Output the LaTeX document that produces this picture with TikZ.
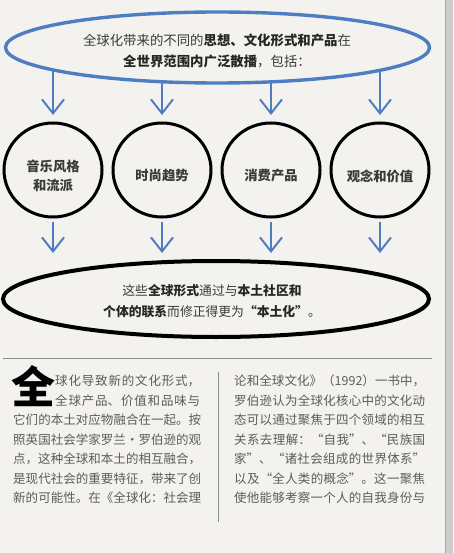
\documentclass[tikz,border=0pt]{standalone}
\usepackage{fontspec}
\setmainfont{Noto Sans CJK SC}
\usetikzlibrary{shapes.geometric,arrows.meta,backgrounds}
% Chinese line breaking: glue between characters so lines can be justified
\XeTeXlinebreaklocale "zh"
\XeTeXlinebreakskip=0pt plus 2pt minus 0.4pt
\tolerance=10000

\definecolor{paper}{HTML}{F4F2EF}
\definecolor{flowblue}{HTML}{4E7EC1}
\definecolor{ink}{HTML}{262626}
\definecolor{softink}{HTML}{3A3A3A}
\definecolor{bodyink}{HTML}{5C5C5C}
\definecolor{rulegray}{HTML}{8C8C8C}
\definecolor{pageedge}{HTML}{CDCDCD}

% one justified line of running text
\newcommand\fullline[1]{\parindent=0pt\parfillskip=0pt\relax#1\par}

\begin{document}
\begin{tikzpicture}[x=1pt,y=-1pt,
  oval/.style={ellipse, draw, fill=paper, inner sep=0pt},
  sourceoval/.style={oval, draw=flowblue, line width=3.4pt, minimum width=424pt, minimum height=71pt},
  localoval/.style={oval, draw=black, line width=4pt, minimum width=426pt, minimum height=76pt},
  topic/.style={ellipse, draw=black, line width=3pt, minimum width=98pt, minimum height=94pt, inner sep=0pt},
  topiclabel/.style={font=\fontsize{13.3}{18.5}\selectfont\bfseries, text=softink, align=center, inner sep=0pt},
  ovaltext/.style={align=center, inner sep=0pt, text=softink},
  flow/.style={draw=flowblue, line width=2pt, -{Straight Barb[length=14pt,width=22pt,line width=2pt]}},
  bodyline/.style={anchor=base west, inner sep=0pt, text width=#1, align=justify,
    font=\fontsize{12.5}{19.5}\selectfont, text=bodyink},
  bodyline/.default=188pt,
]
\useasboundingbox (0,0) rectangle (453,553);

\begin{pgfonlayer}{background}
  \fill[paper] (0,0) rectangle (453,553);
  \fill[pageedge] (445,0) rectangle (453,553);
  \draw[black!35, line width=0.8pt] (445,0) -- (445,553);
\end{pgfonlayer}

% source of global forms
\node[sourceoval] (source) at (217.5,47.5) {};
\node[ovaltext, font=\fontsize{13.4}{21}\selectfont] (sourcetext) at (217,51)
  {全球化带来的不同的\textcolor{ink}{\textbf{思想、文化形式和产品}}在\\\textcolor{ink}{\textbf{全世界范围内广泛散播}}，包括：};

% the four domains
\node[topic] (music)    at (53,170)  {};
\node[topic] (fashion)  at (162,170) {};
\node[topic] (goods)    at (271,170) {};
\node[topic] (values)   at (380,170) {};
\node[topiclabel] (musiclabel)   at (53,176)  {音乐风格\\和流派};
\node[topiclabel] (fashionlabel) at (162,176) {时尚趋势};
\node[topiclabel] (goodslabel)   at (271,176) {消费产品};
\node[topiclabel] (valueslabel)  at (380,176) {观念和价值};

% localisation
\node[localoval] (local) at (216,299) {};
\node[ovaltext, font=\fontsize{12.8}{21.5}\selectfont] (localtext) at (212,301)
  {这些\textcolor{ink}{\textbf{全球形式}}通过与\textcolor{ink}{\textbf{本土社区和}}\\\textcolor{ink}{\textbf{个体的联系}}而修正得更为\textcolor{ink}{\textbf{“本土化”}}。};

% arrows: start under the filled source oval, end above the circles / local oval
\begin{pgfonlayer}{background}
  \foreach \t in {music,fashion,goods,values}{
    \draw[flow, shorten >=6.5pt] (\t |- source.center) -- (\t.north);
  }
\end{pgfonlayer}
\foreach \t in {music,fashion,goods,values}{
  \draw[flow, shorten >=6pt, shorten <=3pt] (\t.south) -- (\t.south |- local.north);
}

% text columns
\draw[rulegray, line width=1pt] (3,358) -- (432,358);
\draw[rulegray, line width=0.9pt] (218,372) -- (218,522);

\node[anchor=base, inner sep=0pt, font=\fontsize{44}{44}\selectfont\bfseries, text=black] (dropcap) at (33,403) {全};

\node[bodyline=145pt] (left1) at (55,385.8)  {\fullline{球化导致新的文化形式，}};
\node[bodyline=145pt] (left2) at (55,405.3)  {\fullline{全球产品、价值和品味与}};
\node[bodyline] (left3) at (13,424.8) {\fullline{它们的本土对应物融合在一起。按}};
\node[bodyline] (left4) at (13,444.3) {\fullline{照英国社会学家罗兰•罗伯逊的观}};
\node[bodyline] (left5) at (13,463.8) {\fullline{点，这种全球和本土的相互融合，}};
\node[bodyline] (left6) at (13,483.3) {\fullline{是现代社会的重要特征，带来了创}};
\node[bodyline] (left7) at (13,502.8) {\fullline{新的可能性。在《全球化：社会理}};

\node[bodyline=191pt] (right1) at (234,385.8) {\fullline{论和全球文化》（1992）一书中，}};
\node[bodyline=191pt] (right2) at (234,405.3) {\fullline{罗伯逊认为全球化核心中的文化动}};
\node[bodyline=191pt] (right3) at (234,424.8) {\fullline{态可以通过聚焦于四个领域的相互}};
\node[bodyline=191pt] (right4) at (234,444.3) {\fullline{关系去理解：“自我”、“民族国}};
\node[bodyline=191pt] (right5) at (234,463.8) {\fullline{家”、“诸社会组成的世界体系”}};
\node[bodyline=191pt] (right6) at (234,483.3) {\fullline{以及“全人类的概念”。这一聚焦}};
\node[bodyline=191pt] (right7) at (234,502.8) {\fullline{使他能够考察一个人的自我身份与}};
\end{tikzpicture}
\end{document}
